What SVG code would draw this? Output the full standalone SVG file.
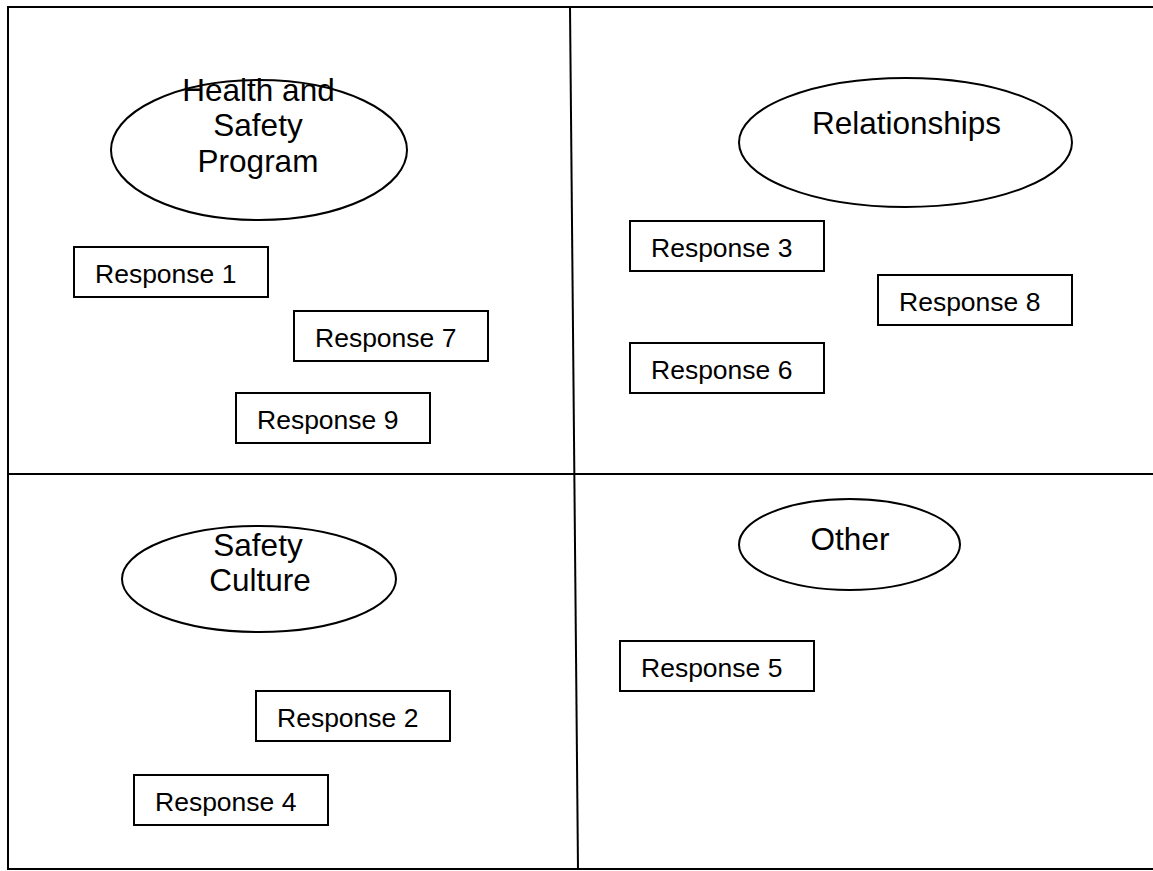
<svg xmlns="http://www.w3.org/2000/svg" width="1153" height="871" viewBox="0 0 1153 871">
<style>
.ln{stroke:#000;stroke-width:2;fill:none}
.el{stroke:#000;stroke-width:2;fill:#fff}
.bx{stroke:#000;stroke-width:2;fill:#fff}
.t{font-family:"Liberation Sans",Arial,sans-serif;font-size:26.5px;fill:#000}
.te{font-family:"Liberation Sans",Arial,sans-serif;font-size:31.5px;fill:#000;text-anchor:middle}
</style>
<rect width="1153" height="871" fill="#fff"/>
<g id="frame">
<path class="ln" d="M1153,7 H8 V869 H1153"/>
<line class="ln" x1="570" y1="7" x2="578" y2="869"/>
<line class="ln" x1="8" y1="474" x2="1153" y2="474"/>
</g>
<g id="hsp"><ellipse class="el" cx="259" cy="150" rx="148" ry="70"/>
<text class="te" x="258.5" y="100.5">Health and</text><text class="te" x="258" y="136">Safety</text><text class="te" x="258" y="171.5">Program</text></g>
<g id="rel"><ellipse class="el" cx="905.5" cy="142.5" rx="166.5" ry="64.5"/>
<text class="te" x="906.5" y="134">Relationships</text></g>
<g id="sc"><ellipse class="el" cx="259" cy="579" rx="137" ry="53"/>
<text class="te" x="258" y="556">Safety</text><text class="te" x="260" y="591">Culture</text></g>
<g id="other"><ellipse class="el" cx="849.5" cy="544.5" rx="110.5" ry="45.5"/>
<text class="te" x="850" y="550">Other</text></g>
<g id="r1"><rect class="bx" x="74" y="247" width="194" height="50"/><text class="t" x="95" y="283">Response 1</text></g>
<g id="r7"><rect class="bx" x="294" y="311" width="194" height="50"/><text class="t" x="315" y="347">Response 7</text></g>
<g id="r9"><rect class="bx" x="236" y="393" width="194" height="50"/><text class="t" x="257" y="429">Response 9</text></g>
<g id="r3"><rect class="bx" x="630" y="221" width="194" height="50"/><text class="t" x="651" y="257">Response 3</text></g>
<g id="r8"><rect class="bx" x="878" y="275" width="194" height="50"/><text class="t" x="899" y="311">Response 8</text></g>
<g id="r6"><rect class="bx" x="630" y="343" width="194" height="50"/><text class="t" x="651" y="379">Response 6</text></g>
<g id="r2"><rect class="bx" x="256" y="691" width="194" height="50"/><text class="t" x="277" y="727">Response 2</text></g>
<g id="r4"><rect class="bx" x="134" y="775" width="194" height="50"/><text class="t" x="155" y="811">Response 4</text></g>
<g id="r5"><rect class="bx" x="620" y="641" width="194" height="50"/><text class="t" x="641" y="677">Response 5</text></g>
<g id="connectors"></g>
</svg>
